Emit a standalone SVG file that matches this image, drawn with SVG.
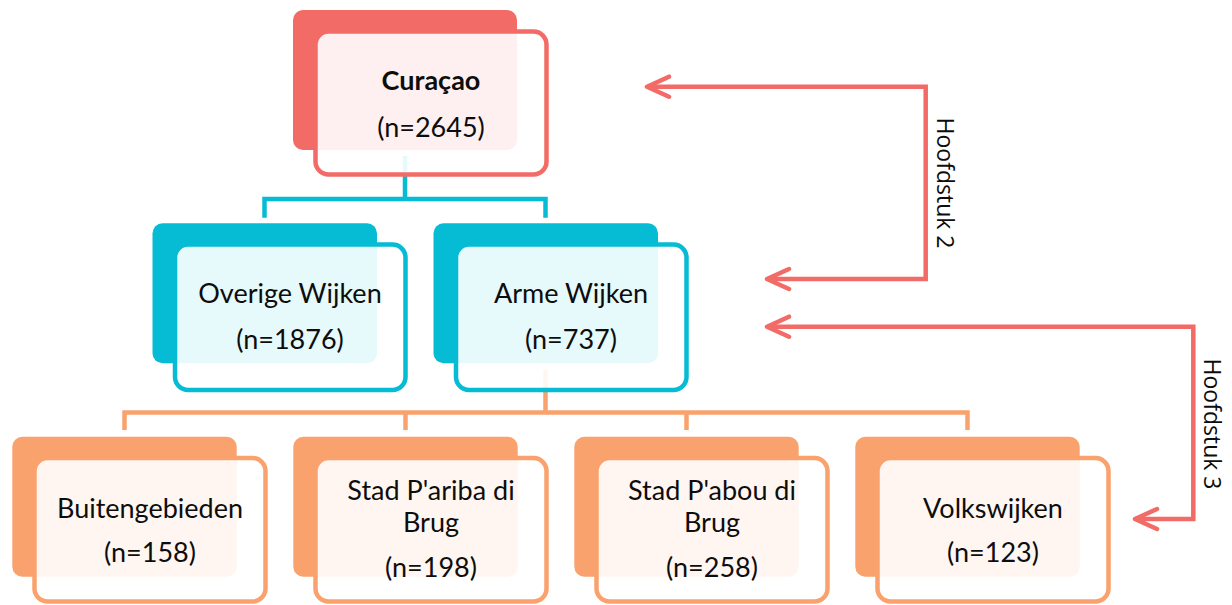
<svg xmlns="http://www.w3.org/2000/svg" width="1232" height="605" viewBox="0 0 1232 605">
<defs>
<style>
.bg{fill:#ffffff}
.b-red{fill:#F26B67}
.f-red{fill:#ffffff;fill-opacity:.9;stroke:#F26B67;stroke-width:4.5}
.b-cy{fill:#05BCD4}
.f-cy{fill:#ffffff;fill-opacity:.9;stroke:#05BCD4;stroke-width:4.5}
.b-or{fill:#FAA26E}
.f-or{fill:#ffffff;fill-opacity:.9;stroke:#FAA26E;stroke-width:4.5}
.ln-cy{fill:none;stroke:#05BCD4;stroke-width:4.5}
.ln-or{fill:none;stroke:#FAA26E;stroke-width:4.5}
.arr{fill:none;stroke:#F26B67;stroke-width:4.5;stroke-linejoin:miter}
.head{fill:none;stroke:#F26B67;stroke-width:4.5;stroke-linecap:round;stroke-linejoin:round}
.t{font-family:Lato,"Open Sans",sans-serif;font-size:27px;fill:#0d0d0d;text-anchor:middle}
.tb{font-weight:bold}
.lbl{font-family:"Open Sans","Noto Sans",sans-serif;font-size:23px;fill:#0d0d0d;text-anchor:middle}
</style>
<marker id="chev" viewBox="0 0 24 24" markerWidth="24" markerHeight="24" refX="2" refY="12" orient="auto-start-reverse" markerUnits="userSpaceOnUse">
<path d="M22,2 L2,12 L22,22" class="head"/>
</marker>
</defs>
<rect class="bg" x="0" y="0" width="1232" height="605"/>

<g id="connectors">
<path class="ln-cy" d="M405,156 V199 M264.5,217.7 V199 H545.5 V217.7"/>
<path class="ln-or" d="M545.5,370 V412.5 M124.5,430 V412.5 H967.5 V430 M405.5,412.5 V430 M686.5,412.5 V430"/>
<path class="arr" d="M649,86.7 H925.7 V279 H769"/>
<path class="head" d="M669,76.7 L647,86.7 L669,96.7 M789,269 L767,279 L789,289"/>
<path class="arr" d="M769,326.7 H1193.3 V519 H1137"/>
<path class="head" d="M789,316.7 L767,326.7 L789,336.7 M1157,509 L1135,519 L1157,529"/>
<text class="lbl" transform="translate(937,183) rotate(90)">Hoofdstuk 2</text>
<text class="lbl" transform="translate(1203.5,424) rotate(90)">Hoofdstuk 3</text>
</g>

<g id="node-curacao">
<rect class="b-red" x="293" y="10" width="224" height="140" rx="10"/>
<rect class="f-red" x="315.5" y="31.5" width="231" height="143" rx="13"/>
<text class="t tb" x="431" y="90">Curaçao</text>
<text class="t" x="431" y="137">(n=2645)</text>
</g>

<g id="node-overige">
<rect class="b-cy" x="152.5" y="223.3" width="224.5" height="140" rx="10"/>
<rect class="f-cy" x="175" y="244.5" width="230.5" height="145.5" rx="13"/>
<text class="t" x="290" y="303">Overige Wijken</text>
<text class="t" x="290" y="349">(n=1876)</text>
</g>

<g id="node-arme">
<rect class="b-cy" x="433.5" y="223.3" width="224.5" height="140" rx="10"/>
<rect class="f-cy" x="456" y="244.5" width="230.5" height="145.5" rx="13"/>
<text class="t" x="571" y="303">Arme Wijken</text>
<text class="t" x="571" y="349">(n=737)</text>
</g>

<g id="node-buitengebieden">
<rect class="b-or" x="12.3" y="436.7" width="224.4" height="140" rx="10"/>
<rect class="f-or" x="34.5" y="458" width="231" height="143.5" rx="13"/>
<text class="t" x="150" y="517.7">Buitengebieden</text>
<text class="t" x="150" y="561.7">(n=158)</text>
</g>

<g id="node-pariba">
<rect class="b-or" x="293.3" y="436.7" width="224.4" height="140" rx="10"/>
<rect class="f-or" x="315.5" y="458" width="231" height="143.5" rx="13"/>
<text class="t" x="431" y="500">Stad P'ariba di</text>
<text class="t" x="431" y="532">Brug</text>
<text class="t" x="431" y="577">(n=198)</text>
</g>

<g id="node-pabou">
<rect class="b-or" x="574.3" y="436.7" width="224.4" height="140" rx="10"/>
<rect class="f-or" x="596.5" y="458" width="231" height="143.5" rx="13"/>
<text class="t" x="712" y="500">Stad P'abou di</text>
<text class="t" x="712" y="532">Brug</text>
<text class="t" x="712" y="577">(n=258)</text>
</g>

<g id="node-volkswijken">
<rect class="b-or" x="855.3" y="436.7" width="224.4" height="140" rx="10"/>
<rect class="f-or" x="877.5" y="458" width="231" height="143.5" rx="13"/>
<text class="t" x="993" y="517.7">Volkswijken</text>
<text class="t" x="993" y="561.7">(n=123)</text>
</g>
</svg>
